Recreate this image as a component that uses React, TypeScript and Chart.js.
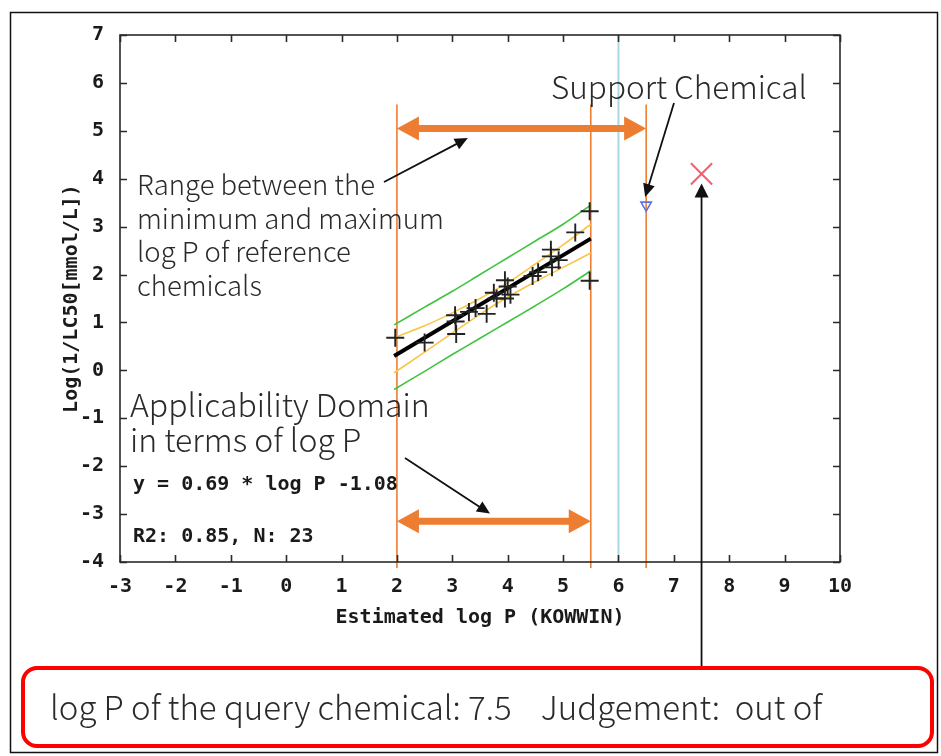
import React, { useEffect, useRef } from 'react';
import { Chart, registerables } from 'chart.js';

Chart.register(...registerables);

// ---------- data ----------
const refLogP = [1.97, 2.5, 3.05, 3.06, 3.07, 3.3, 3.42, 3.62, 3.75, 3.8, 3.95, 3.95, 4.0, 4.05, 4.45, 4.55, 4.78, 4.78, 4.8, 4.92, 5.22, 5.48, 5.48];
const refToxicity = [0.68, 0.58, 1.15, 1.02, 0.76, 1.22, 1.3, 1.18, 1.62, 1.5, 1.88, 1.5, 1.75, 1.58, 1.97, 2.05, 2.52, 2.38, 2.15, 2.3, 2.88, 3.32, 1.87];

const regressionX = [1.95, 5.5];
const regressionY = [0.3, 2.75];

const bandX = [1.95, 2.5, 3, 3.5, 4, 4.5, 5, 5.5];
const confUpper = [0.68, 0.93, 1.2, 1.5, 1.83, 2.22, 2.62, 3.05];
const confLower = [-0.05, 0.38, 0.78, 1.17, 1.53, 1.85, 2.15, 2.45];
const predUpper = [0.95, 1.32, 1.65, 2.0, 2.35, 2.7, 3.05, 3.45];
const predLower = [-0.4, -0.02, 0.33, 0.67, 1.01, 1.35, 1.7, 2.08];

const supportLogP = [6.5];
const supportToxicity = [3.45];
const queryLogP = [7.5];
const queryToxicity = [4.1];

const xTickValues = [-3, -2, -1, 0, 1, 2, 3, 4, 5, 6, 7, 8, 9, 10];
const xTickLabels = ['-3', '-2', '-1', '0', '1', '2', '3', '4', '5', '6', '7', '8', '9', '10'];
const yTickValues = [-4, -3, -2, -1, 0, 1, 2, 3, 4, 5, 6, 7];
const yTickLabels = ['-4', '-3', '-2', '-1', '0', '1', '2', '3', '4', '5', '6', '7'];

const domainMin = 2;
const domainMax = 5.5;
const supportMax = 6.5;
const centerLine = 6;

const X_TITLE = 'Estimated log P (KOWWIN)';
const Y_TITLE = 'Log(1/LC50[mmol/L])';
const EQUATION = 'y = 0.69 * log P -1.08';
const STATS = 'R2: 0.85, N: 23';
const SUPPORT_LABEL = 'Support Chemical';
const RANGE_LINES = ['Range between the', 'minimum and maximum', 'log P of reference', 'chemicals'];
const DOMAIN_LINES = ['Applicability Domain', 'in terms of log P'];
const QUERY_TEXT = 'log P of the query chemical: 7.5    Judgement:  out of';

const MONO = '"DejaVu Sans Mono", "Liberation Mono", monospace';
const SANS = '"Noto Sans CJK JP", "Noto Sans", sans-serif';
const ORANGE = '#ED7D31';

function pts(xs: number[], ys: number[]) {
  return xs.map((x, i) => ({ x, y: ys[i] }));
}

function arrowLine(ctx: CanvasRenderingContext2D, x1: number, y1: number, x2: number, y2: number, len: number, half: number) {
  const a = Math.atan2(y2 - y1, x2 - x1);
  ctx.beginPath();
  ctx.moveTo(x1, y1);
  ctx.lineTo(x2 - Math.cos(a) * len * 0.8, y2 - Math.sin(a) * len * 0.8);
  ctx.stroke();
  ctx.beginPath();
  ctx.moveTo(x2, y2);
  ctx.lineTo(x2 - Math.cos(a) * len - Math.sin(a) * half, y2 - Math.sin(a) * len + Math.cos(a) * half);
  ctx.lineTo(x2 - Math.cos(a) * len + Math.sin(a) * half, y2 - Math.sin(a) * len - Math.cos(a) * half);
  ctx.closePath();
  ctx.fill();
}

function doubleArrow(ctx: CanvasRenderingContext2D, x1: number, x2: number, y: number) {
  const len = 22, half = 12;
  ctx.fillStyle = ORANGE;
  ctx.strokeStyle = ORANGE;
  ctx.lineWidth = 7;
  ctx.beginPath();
  ctx.moveTo(x1 + len - 2, y);
  ctx.lineTo(x2 - len + 2, y);
  ctx.stroke();
  ctx.beginPath();
  ctx.moveTo(x1, y);
  ctx.lineTo(x1 + len, y - half);
  ctx.lineTo(x1 + len, y + half);
  ctx.closePath();
  ctx.fill();
  ctx.beginPath();
  ctx.moveTo(x2, y);
  ctx.lineTo(x2 - len, y - half);
  ctx.lineTo(x2 - len, y + half);
  ctx.closePath();
  ctx.fill();
}

const overlay = {
  id: 'overlay',
  beforeDatasetsDraw(chart: any) {
    const { ctx, chartArea } = chart;
    const x = chart.scales.x;
    const y = chart.scales.y;
    ctx.save();
    ctx.strokeStyle = '#a9d8e2';
    ctx.lineWidth = 2;
    const cx = x.getPixelForValue(centerLine);
    ctx.beginPath();
    ctx.moveTo(cx, chartArea.top);
    ctx.lineTo(cx, chartArea.bottom);
    ctx.stroke();
    ctx.strokeStyle = ORANGE;
    ctx.lineWidth = 1.6;
    const top = y.getPixelForValue(5.55);
    [domainMin, domainMax, supportMax].forEach((v) => {
      const px = x.getPixelForValue(v);
      ctx.beginPath();
      ctx.moveTo(px, top);
      ctx.lineTo(px, chartArea.bottom + 6);
      ctx.stroke();
    });
    ctx.restore();
  },
  afterDraw(chart: any) {
    const { ctx, chartArea } = chart;
    const x = chart.scales.x;
    const y = chart.scales.y;
    ctx.save();
    // plot frame
    ctx.strokeStyle = '#2a2a2a';
    ctx.lineWidth = 1.6;
    ctx.strokeRect(chartArea.left, chartArea.top, chartArea.right - chartArea.left, chartArea.bottom - chartArea.top);
    // inward ticks
    ctx.beginPath();
    xTickValues.forEach((v) => {
      const px = Math.round(x.getPixelForValue(v)) + 0.5;
      ctx.moveTo(px, chartArea.bottom);
      ctx.lineTo(px, chartArea.bottom - 7);
      ctx.moveTo(px, chartArea.top);
      ctx.lineTo(px, chartArea.top + 7);
    });
    yTickValues.forEach((v) => {
      const py = Math.round(y.getPixelForValue(v)) + 0.5;
      ctx.moveTo(chartArea.left, py);
      ctx.lineTo(chartArea.left + 7, py);
      ctx.moveTo(chartArea.right, py);
      ctx.lineTo(chartArea.right - 7, py);
    });
    ctx.stroke();

    // orange double arrows
    doubleArrow(ctx, x.getPixelForValue(domainMin), x.getPixelForValue(supportMax), y.getPixelForValue(5.05));
    doubleArrow(ctx, x.getPixelForValue(domainMin), x.getPixelForValue(domainMax), y.getPixelForValue(-3.15));

    // thin black arrows
    ctx.strokeStyle = '#111';
    ctx.fillStyle = '#111';
    ctx.lineWidth = 1.8;
    arrowLine(ctx, 384, 182, x.getPixelForValue(3.28), y.getPixelForValue(4.85), 13, 6);
    arrowLine(ctx, 674, 103, x.getPixelForValue(supportMax) - 1, y.getPixelForValue(3.62), 13, 6);
    arrowLine(ctx, 405, 458, x.getPixelForValue(3.68), y.getPixelForValue(-2.99), 13, 6);
    arrowLine(ctx, x.getPixelForValue(queryLogP[0]), 668, x.getPixelForValue(queryLogP[0]), y.getPixelForValue(3.9), 14, 7);

    // annotation texts
    ctx.fillStyle = '#2a2a2a';
    ctx.textAlign = 'left';
    ctx.textBaseline = 'middle';
    ctx.font = `300 31.5px ${SANS}`;
    ctx.fillText(SUPPORT_LABEL, 551, 87);
    ctx.font = `300 27.5px ${SANS}`;
    RANGE_LINES.forEach((t, i) => ctx.fillText(t, 137, 185 + i * 33.5));
    ctx.font = `300 32px ${SANS}`;
    DOMAIN_LINES.forEach((t, i) => ctx.fillText(t, 130, 405 + i * 35));
    ctx.fillStyle = '#1a1a1a';
    ctx.font = `bold 20px ${MONO}`;
    ctx.fillText(EQUATION, 133, 485);
    ctx.fillText(STATS, 133, 537);

    // red query box
    ctx.strokeStyle = '#ff0000';
    ctx.lineWidth = 4;
    ctx.beginPath();
    (ctx as any).roundRect(23, 668, 909, 78, 14);
    ctx.stroke();
    ctx.fillStyle = '#2a2a2a';
    ctx.font = `300 33px ${SANS}`;
    ctx.fillText(QUERY_TEXT, 50, 707);

    // outer frame
    ctx.strokeStyle = '#111';
    ctx.lineWidth = 1.5;
    ctx.strokeRect(10.5, 12.5, 927, 740);
    ctx.restore();
  },
};

export default function App() {
  const canvasRef = useRef<HTMLCanvasElement | null>(null);

  useEffect(() => {
    const canvas = canvasRef.current;
    if (!canvas) return;
    const tickFont = { family: MONO, size: 20, weight: 'bold' as const };
    const chart = new Chart(canvas, {
      type: 'scatter',
      data: {
        datasets: [
          {
            label: 'Reference chemicals',
            data: pts(refLogP, refToxicity),
            pointStyle: 'cross',
            pointRadius: 9,
            borderColor: '#222',
            borderWidth: 1.9,
            showLine: false,
          },
          {
            label: 'Query chemical',
            data: pts(queryLogP, queryToxicity),
            pointStyle: 'crossRot',
            pointRadius: 15,
            borderColor: '#f0606e',
            borderWidth: 2,
            showLine: false,
          },
          {
            label: 'Support chemical',
            data: pts(supportLogP, supportToxicity),
            pointStyle: 'triangle',
            rotation: 180,
            pointRadius: 6,
            borderColor: '#5a72e6',
            backgroundColor: 'rgba(255,255,255,0)',
            borderWidth: 1.6,
            showLine: false,
          },
          {
            label: 'Regression',
            data: pts(regressionX, regressionY),
            showLine: true,
            borderColor: '#000',
            borderWidth: 4,
            pointRadius: 0,
          },
          {
            label: 'Confidence upper',
            data: pts(bandX, confUpper),
            showLine: true,
            borderColor: '#f8c64a',
            borderWidth: 1.6,
            pointRadius: 0,
            tension: 0.3,
          },
          {
            label: 'Confidence lower',
            data: pts(bandX, confLower),
            showLine: true,
            borderColor: '#f8c64a',
            borderWidth: 1.6,
            pointRadius: 0,
            tension: 0.3,
          },
          {
            label: 'Prediction upper',
            data: pts(bandX, predUpper),
            showLine: true,
            borderColor: '#3ec43e',
            borderWidth: 1.6,
            pointRadius: 0,
            tension: 0.3,
          },
          {
            label: 'Prediction lower',
            data: pts(bandX, predLower),
            showLine: true,
            borderColor: '#3ec43e',
            borderWidth: 1.6,
            pointRadius: 0,
            tension: 0.3,
          },
        ],
      },
      options: {
        animation: false,
        responsive: false,
        devicePixelRatio: 1,
        layout: { padding: { left: 0, top: 35, right: 101, bottom: 114 } },
        plugins: { legend: { display: false }, tooltip: { enabled: false } },
        scales: {
          x: {
            type: 'linear',
            min: -3,
            max: 10,
            grid: { display: false },
            border: { display: false },
            afterFit: (s: any) => { s.height = 80; },
            afterBuildTicks: (s: any) => { s.ticks = xTickValues.map((v) => ({ value: v })); },
            ticks: {
              font: tickFont,
              color: '#1a1a1a',
              padding: 5,
              maxRotation: 0,
              autoSkip: false,
              callback: (_v: any, i: number) => xTickLabels[i],
            },
            title: { display: true, text: X_TITLE, font: tickFont, color: '#1a1a1a', padding: { top: 0, bottom: 12 } },
          },
          y: {
            type: 'linear',
            min: -4,
            max: 7,
            grid: { display: false },
            border: { display: false },
            afterFit: (s: any) => { s.width = 120; },
            afterBuildTicks: (s: any) => { s.ticks = yTickValues.map((v) => ({ value: v })); },
            ticks: {
              font: tickFont,
              color: '#1a1a1a',
              padding: 8,
              autoSkip: false,
              callback: (_v: any, i: number) => yTickLabels[i],
            },
            title: { display: true, text: Y_TITLE, font: tickFont, color: '#1a1a1a', padding: { top: 60, bottom: 0 } },
          },
        },
      },
      plugins: [overlay],
    } as any);
    return () => chart.destroy();
  }, []);

  return (
    <div style={{ position: 'absolute', left: 0, top: 0, width: 941, height: 756, background: '#fff' }}>
      <canvas ref={canvasRef} width={941} height={756} style={{ display: 'block' }} />
    </div>
  );
}
